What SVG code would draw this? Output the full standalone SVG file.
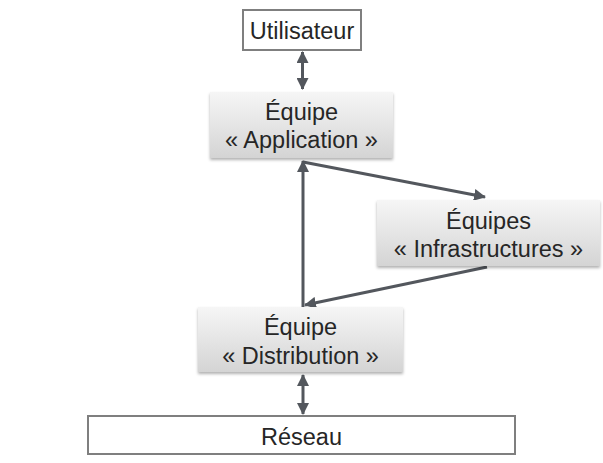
<svg xmlns="http://www.w3.org/2000/svg" width="603" height="463" viewBox="0 0 603 463">
<defs>
<linearGradient id="g" x1="0" y1="0" x2="0" y2="1">
<stop offset="0" stop-color="#f6f6f6"/>
<stop offset="1" stop-color="#d4d4d4"/>
</linearGradient>
<filter id="sh" x="-10%" y="-10%" width="120%" height="140%">
<feDropShadow dx="0" dy="2" stdDeviation="1.5" flood-color="#000" flood-opacity="0.3"/>
</filter>
<marker id="ah" viewBox="0 0 12 12" refX="11" refY="6" markerWidth="12" markerHeight="12" markerUnits="userSpaceOnUse" orient="auto-start-reverse">
<path d="M0,0 L12,6 L0,12 Z" fill="#53575d"/>
</marker>
<style>
.t{font-family:"Liberation Sans",Arial,sans-serif;font-size:23.5px;fill:#262626;text-anchor:middle}
.b{fill:#fff;stroke:#7f7f7f;stroke-width:2}
.n{fill:url(#g);filter:url(#sh)}
.c{stroke:#53575d;stroke-width:3;fill:none}
</style>
</defs>
<g id="connectors">
<line class="c" x1="302.5" y1="52" x2="302.5" y2="89" marker-start="url(#ah)" marker-end="url(#ah)"/>
<line class="c" x1="303" y1="307" x2="303" y2="161" marker-end="url(#ah)"/>
<line class="c" x1="303" y1="162" x2="485" y2="197" marker-end="url(#ah)"/>
<line class="c" x1="487" y1="267" x2="305" y2="305" marker-end="url(#ah)"/>
<line class="c" x1="303" y1="375" x2="303" y2="414" marker-start="url(#ah)" marker-end="url(#ah)"/>
</g>
<g id="utilisateur">
<rect class="b" x="243" y="10" width="118" height="40"/>
<text class="t" x="302" y="39">Utilisateur</text>
</g>
<g id="application">
<rect class="n" x="210" y="92" width="183" height="66"/>
<text class="t" x="301.5" y="120">Équipe</text>
<text class="t" x="301.5" y="148">« Application »</text>
</g>
<g id="infrastructures">
<rect class="n" x="377" y="200" width="223" height="66"/>
<text class="t" x="488.5" y="229">Équipes</text>
<text class="t" x="488.5" y="257">« Infrastructures »</text>
</g>
<g id="distribution">
<rect class="n" x="198" y="307" width="205" height="65"/>
<text class="t" x="300.5" y="335">Équipe</text>
<text class="t" x="300.5" y="364">« Distribution »</text>
</g>
<g id="reseau">
<rect class="b" x="88" y="416" width="427" height="38"/>
<text class="t" x="301.5" y="445">Réseau</text>
</g>
</svg>
